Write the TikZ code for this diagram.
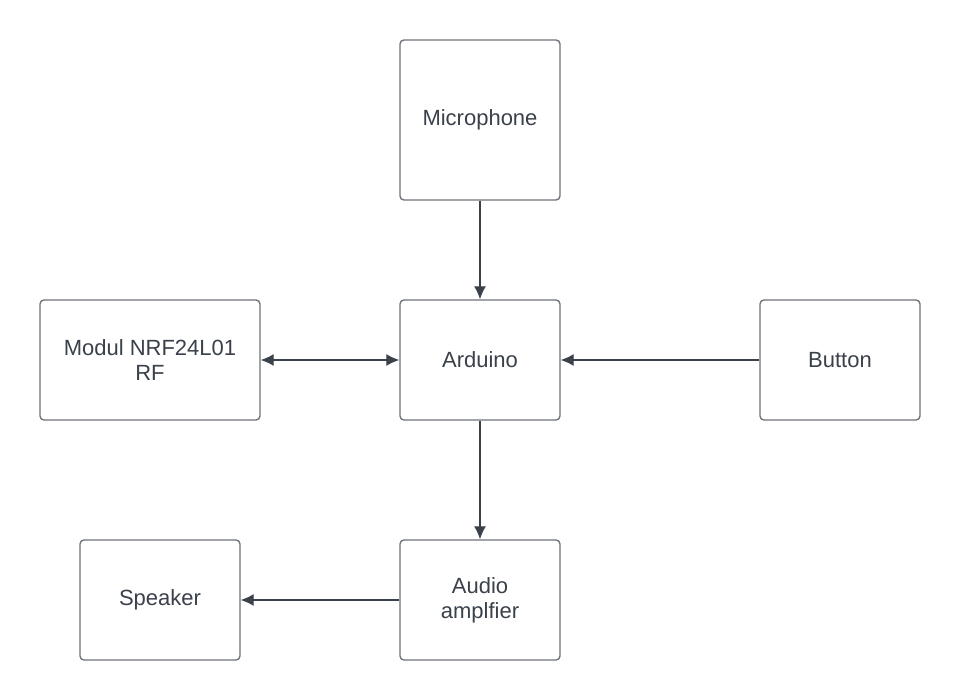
\documentclass[tikz,border=0pt]{standalone}
\usepackage{fontspec}
\setmainfont{Liberation Sans}
\usetikzlibrary{arrows.meta}
\definecolor{boxgray}{HTML}{6E747B}
\definecolor{inkdark}{HTML}{3A414A}

\begin{document}
\begin{tikzpicture}[x=1pt, y=-1pt,
  block/.style={draw=boxgray, line width=1.4pt, rounded corners=4pt,
    minimum width=#1, minimum height=120pt, inner sep=0pt, align=center,
    text=inkdark, font=\fontsize{22}{25}\selectfont},
  block/.default=160pt,
  link/.style={draw=inkdark, line width=1.3pt, -{Latex[length=13pt,width=12pt]}}]
\useasboundingbox[fill=white] (0,0) rectangle (960,700);
% blocks
\node[block, minimum height=160pt] (mic) at (480,120) {Microphone};
\node[block] (ard) at (480,360) {Arduino};
\node[block=220pt] (rf) at (150,360) {Modul NRF24L01\\RF};
\node[block] (btn) at (840,360) {Button};
\node[block] (amp) at (480,600) {Audio\\amplfier};
\node[block] (spk) at (160,600) {Speaker};
% links
\draw[link] (mic) -- (ard);
\draw[link, {Latex[length=13pt,width=12pt]}-{Latex[length=13pt,width=12pt]}] (rf) -- (ard);
\draw[link] (btn) -- (ard);
\draw[link] (ard) -- (amp);
\draw[link] (amp) -- (spk);
\end{tikzpicture}
\end{document}
